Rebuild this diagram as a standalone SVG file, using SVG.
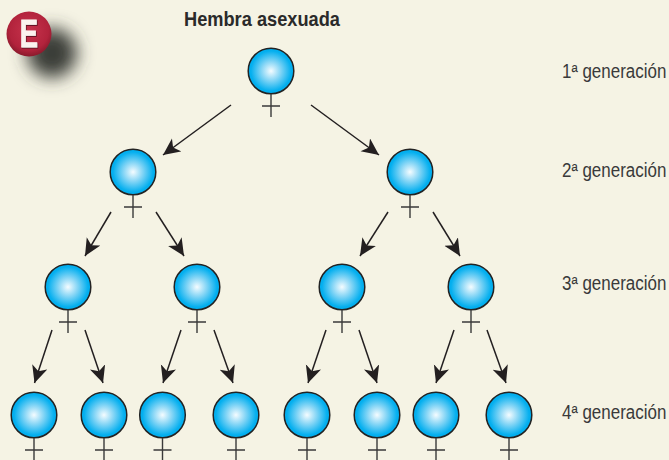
<svg xmlns="http://www.w3.org/2000/svg" xmlns:xlink="http://www.w3.org/1999/xlink" width="669" height="460" viewBox="0 0 669 460">
<style>
.gen{font-family:"Liberation Sans",Arial,sans-serif;font-size:19.500px;fill:#3a3a3a}
.title{font-family:"Liberation Sans",Arial,sans-serif;font-size:19.500px;font-weight:bold;fill:#2a2a2a}
.arrow{fill:none;stroke:#231f20;stroke-width:1.5;marker-end:url(#ah)}
.ball{fill:url(#blue);stroke:#232323;stroke-width:1.5}
.sym{fill:none;stroke:#3a3a3a;stroke-width:1.4}
</style>
<defs>
<radialGradient id="blue"><stop offset="0" stop-color="#f5fcff"/><stop offset="0.4" stop-color="#8ad7f6"/><stop offset="0.88" stop-color="#04afef"/><stop offset="1" stop-color="#00aeef"/></radialGradient>
<radialGradient id="red" cx="0.5" cy="0.42" r="0.58"><stop offset="0" stop-color="#c7334c"/><stop offset="0.75" stop-color="#b2233c"/><stop offset="1" stop-color="#8a1a2c"/></radialGradient>
<filter id="blur" x="-80%" y="-80%" width="260%" height="260%"><feGaussianBlur stdDeviation="8.500"/></filter>
<filter id="eshadow" x="-30%" y="-30%" width="160%" height="160%"><feDropShadow dx="1" dy="1" stdDeviation="0.700" flood-color="#5a0f1d"/></filter>
<marker id="ah" markerUnits="userSpaceOnUse" markerWidth="24" markerHeight="20" refX="17" refY="8" orient="auto"><path d="M17 8L0 0L4.500 8L0 16Z" fill="#231f20"/></marker>
<g id="fem"><circle class="ball" r="22.800"/><path class="sym" d="M0 23V46M-9 35H9"/></g>
</defs>
<rect width="669" height="460" fill="#f5f3e4"/>
<g id="badge">
<circle cx="52" cy="53" r="25" fill="#3a3d37" filter="url(#blur)"/>
<circle cx="29" cy="34" r="22.500" fill="url(#red)"/>
<text transform="translate(29 47) scale(0.72 1)" text-anchor="middle" font-family="'Liberation Sans',Arial,sans-serif" font-size="38" font-weight="bold" fill="#fbf3ee" stroke="#fbf3ee" stroke-width="0.8" filter="url(#eshadow)">E</text>
</g>
<g id="connectors">
<path class="arrow" d="M231 105L163 155"/><path class="arrow" d="M311 105L379 155"/>
<path class="arrow" d="M111 212L85 256"/><path class="arrow" d="M156 212L184 256"/><path class="arrow" d="M388 212L360 256"/><path class="arrow" d="M433 212L460 256"/>
<path class="arrow" d="M52 330L34.500 383"/><path class="arrow" d="M85 330L103 383"/><path class="arrow" d="M181 330L163 383"/><path class="arrow" d="M214 330L233 383"/><path class="arrow" d="M326 330L308 383"/><path class="arrow" d="M359 330L377 383"/><path class="arrow" d="M454 330L436 383"/><path class="arrow" d="M487 330L506 383"/>
</g>
<g id="n1"><use xlink:href="#fem" x="271" y="71"/></g>
<g id="n2"><use xlink:href="#fem" x="133" y="172"/></g>
<g id="n3"><use xlink:href="#fem" x="410" y="172"/></g>
<g id="n4"><use xlink:href="#fem" x="68" y="287"/></g>
<g id="n5"><use xlink:href="#fem" x="197" y="287"/></g>
<g id="n6"><use xlink:href="#fem" x="342" y="287"/></g>
<g id="n7"><use xlink:href="#fem" x="471" y="287"/></g>
<g id="n8"><use xlink:href="#fem" x="34" y="415"/></g>
<g id="n9"><use xlink:href="#fem" x="104" y="415"/></g>
<g id="n10"><use xlink:href="#fem" x="162.500" y="415"/></g>
<g id="n11"><use xlink:href="#fem" x="236" y="415"/></g>
<g id="n12"><use xlink:href="#fem" x="307" y="415"/></g>
<g id="n13"><use xlink:href="#fem" x="377" y="415"/></g>
<g id="n14"><use xlink:href="#fem" x="436" y="415"/></g>
<g id="n15"><use xlink:href="#fem" x="509" y="415"/></g>
<text class="title" transform="translate(184 26) scale(0.935 1)">Hembra asexuada</text>
<text class="gen" transform="translate(562 78) scale(0.87 1)">1ª generación</text>
<text class="gen" transform="translate(562 177) scale(0.87 1)">2ª generación</text>
<text class="gen" transform="translate(562 290) scale(0.87 1)">3ª generación</text>
<text class="gen" transform="translate(562 419) scale(0.87 1)">4ª generación</text>
</svg>
